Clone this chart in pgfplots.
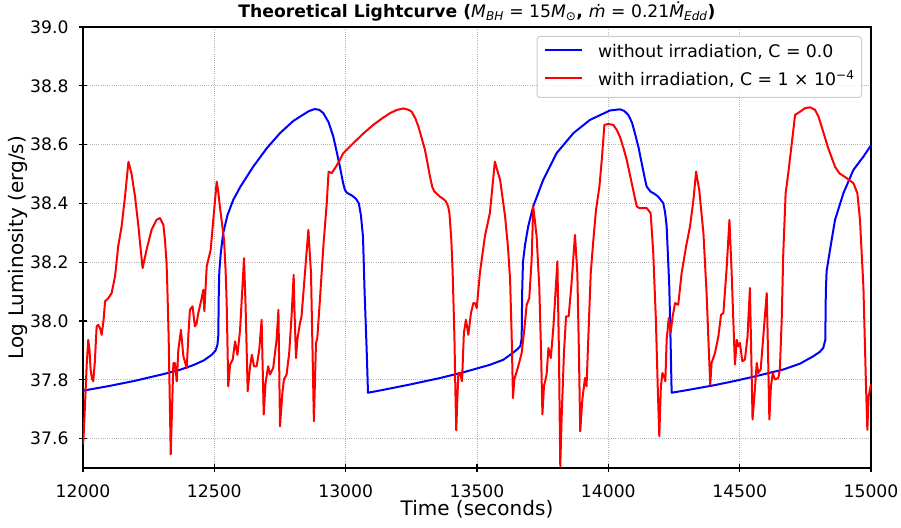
\documentclass[border=0pt]{standalone}
\usepackage{pgfplots}
\pgfplotsset{compat=1.18}
\usepackage{fontspec}
\setmainfont{DejaVu Sans}
\usetikzlibrary{calc}
\begin{document}
\begin{tikzpicture}
\begin{axis}[
  name=ax,
  scale only axis,
  width=788pt, height=441pt,
  xmin=12000, xmax=15000, ymin=37.5, ymax=39.0,
  xtick={12000,12500,13000,13500,14000,14500,15000},
  ytick={37.6,37.8,38.0,38.2,38.4,38.6,38.8,39.0},
  scaled x ticks=false, scaled y ticks=false,
  /pgf/number format/assume math mode=true,
  x tick label style={/pgf/number format/1000 sep={}},
  y tick label style={/pgf/number format/fixed, /pgf/number format/fixed zerofill, /pgf/number format/precision=1},
  xticklabel style={anchor=base, yshift=-25pt, inner sep=0pt, font=\fontsize{17.2}{20}\selectfont},
  yticklabel style={anchor=east, xshift=-10.3pt, inner sep=0pt, font=\fontsize{17.2}{20}\selectfont},
  xtick pos=left, ytick pos=left,
  tick align=center,
  major tick length=8pt,
  tick style={black, line width=1.2pt},
  axis line style={black, line width=1.25pt},
  grid=major,
  grid style={line width=0.8pt, draw=black!30, dash pattern=on 0.8pt off 1.4pt},
  xlabel={Time (seconds)},
  ylabel={Log Luminosity (erg/s)},
  xlabel style={at={(axis description cs:0.5,-0.10658)}, anchor=base, inner sep=0pt, font=\fontsize{20}{24}\selectfont},
  ylabel style={at={(axis description cs:-0.0749,0.5)}, anchor=base, inner sep=0pt, font=\fontsize{20}{24}\selectfont},
  title={\textbf{Theoretical Lightcurve (}\textit{M}\textsubscript{\textit{BH}} = 15\textit{M}\textsubscript{⊙}\textbf{, }\textit{ṁ} = 0.21\textit{Ṁ}\textsubscript{\textit{Edd}}\textbf{)}},
  every axis title/.style={at={(axis description cs:0.5,1)}, anchor=base, yshift=9.3pt, inner sep=0pt, font=\fontsize{17.2}{20}\selectfont},
  legend image code/.code={\draw[#1, line width=2pt] (0pt,7.3pt) -- (37pt,7.3pt);},
  legend style={at={(axis description cs:1,1)}, anchor=north east, xshift=-9pt, yshift=-9pt,
    draw=black!20, line width=1pt, rounded corners=3pt, fill=white, fill opacity=0.8, text opacity=1, draw opacity=1,
    font=\fontsize{17.3}{21}\selectfont, inner xsep=7pt, inner ysep=5pt, row sep=5pt, column sep=15pt,
    cells={anchor=base west},
    nodes={inner sep=0pt, text height=16.3pt, text depth=6.7pt}},
  every axis plot/.append style={line width=2pt, line join=round},
]
\addplot[blue] coordinates {
(12000,37.763) (12100,37.779) (12200,37.797) (12242,37.806) (12300,37.818) (12369,37.834)
(12420,37.850) (12460,37.866) (12490,37.885) (12505,37.90) (12512,37.92) (12515,37.95)
(12517,38.10) (12519,38.17) (12525,38.235) (12534,38.30) (12550,38.36) (12572,38.412)
(12600,38.458) (12648,38.525) (12700,38.588) (12750,38.639) (12800,38.680) (12826,38.695)
(12860,38.714) (12883,38.721) (12900,38.718) (12915,38.707) (12935,38.676) (12953,38.627)
(12966,38.575) (12978,38.525) (12990,38.47) (12997,38.446) (13005,38.436) (13025,38.426)
(13040,38.415) (13050,38.40) (13058,38.36) (13066,38.286) (13072,38.10) (13080,37.90)
(13085,37.756) (13150,37.767) (13250,37.785) (13359,37.806) (13450,37.826) (13549,37.851)
(13600,37.868) (13637,37.892) (13655,37.905) (13665,37.915) (13670,37.94) (13672,38.10)
(13675,38.2) (13683,38.26) (13695,38.322) (13714,38.390) (13752,38.480) (13803,38.571)
(13867,38.639) (13930,38.684) (13968,38.700) (14006,38.716) (14044,38.720) (14060,38.715)
(14076,38.701) (14090,38.675) (14101,38.639) (14115,38.59) (14127,38.537) (14140,38.48)
(14146,38.457) (14161,38.440) (14175,38.433) (14190,38.423) (14209,38.401) (14216,38.37)
(14222,38.322) (14228,38.20) (14232,38.118) (14237,37.93) (14241,37.756) (14300,37.765)
(14400,37.781) (14476,37.795) (14560,37.812) (14666,37.835) (14730,37.855) (14780,37.880)
(14805,37.895) (14818,37.908) (14826,37.936) (14828,38.10) (14831,38.17) (14844,38.242)
(14863,38.344) (14895,38.435) (14933,38.514) (14971,38.559) (15000,38.598)
};
\addlegendentry{without irradiation, C = 0.0}
\addplot[red] coordinates {
(12000,37.58) (12003,37.62) (12008,37.721) (12014,37.85) (12020,37.936) (12025,37.90)
(12029,37.834) (12034,37.805) (12039,37.795) (12045,37.86) (12052,37.982) (12058,37.987)
(12065,37.975) (12071,37.953) (12078,38.00) (12084,38.067) (12097,38.078) (12109,38.095)
(12122,38.152) (12134,38.254) (12147,38.322) (12160,38.424) (12173,38.542) (12185,38.50)
(12198,38.424) (12211,38.322) (12220,38.24) (12227,38.180) (12242,38.242) (12261,38.310)
(12280,38.344) (12293,38.350) (12306,38.327) (12312,38.276) (12318,38.20) (12321,38.118)
(12326,37.948) (12330,37.75) (12334,37.546) (12339,37.70) (12344,37.857) (12350,37.857)
(12357,37.795) (12363,37.902) (12373,37.970) (12377,37.93) (12382,37.880) (12395,37.840)
(12401,37.95) (12407,38.038) (12417,38.050) (12426,37.982) (12432,37.99) (12439,38.027)
(12450,38.07) (12458,38.106) (12462,38.033) (12471,38.186) (12486,38.242) (12496,38.344)
(12509,38.474) (12515,38.44) (12521,38.390) (12537,38.276) (12543,38.17) (12547,38.061)
(12553,37.778) (12560,37.852) (12570,37.869) (12579,37.931) (12588,37.885) (12598,37.970)
(12606,38.10) (12613,38.214) (12619,38.050) (12627,37.761) (12636,37.846) (12643,37.885)
(12651,37.846) (12661,37.846) (12671,37.902) (12680,38.004) (12688,37.682) (12695,37.789)
(12705,37.846) (12712,37.818) (12724,37.840) (12737,37.936) (12744,38.038) (12750,37.642)
(12759,37.755) (12765,37.801) (12775,37.818) (12785,37.891) (12794,38.016) (12802,38.157)
(12805,38.038) (12811,37.874) (12816,37.936) (12826,37.993) (12832,38.016) (12842,38.129)
(12850,38.22) (12858,38.310) (12868,38.163) (12874,37.891) (12879,37.659) (12887,37.925)
(12892,37.942) (12902,38.072) (12915,38.254) (12928,38.401) (12935,38.508) (12947,38.503)
(12963,38.525) (12978,38.548) (12991,38.571) (13016,38.593) (13042,38.616) (13070,38.64)
(13105,38.667) (13140,38.69) (13169,38.707) (13195,38.718) (13220,38.723) (13240,38.718)
(13251,38.712) (13265,38.69) (13277,38.661) (13290,38.62) (13302,38.582) (13312,38.535)
(13321,38.491) (13330,38.455) (13338,38.440) (13359,38.423) (13375,38.413) (13382,38.406)
(13390,38.39) (13395,38.367) (13402,38.28) (13407,38.174) (13414,37.948) (13418,37.75)
(13421,37.628) (13425,37.73) (13429,37.823) (13435,37.823) (13443,37.795) (13450,37.959)
(13458,38.004) (13467,37.953) (13477,38.027) (13486,38.061) (13493,38.06) (13499,38.044)
(13511,38.163) (13530,38.288) (13549,38.367) (13568,38.542) (13578,38.51) (13588,38.480)
(13607,38.355) (13618,38.25) (13626,38.140) (13632,37.948) (13637,37.738) (13642,37.801)
(13657,37.846) (13670,37.891) (13680,37.970) (13689,38.055) (13699,38.078) (13708,38.208)
(13714,38.390) (13727,38.288) (13737,38.118) (13744,37.891) (13749,37.682) (13755,37.778)
(13765,37.818) (13772,37.908) (13781,37.874) (13791,37.982) (13806,38.203) (13812,37.891)
(13817,37.506) (13822,37.665) (13831,37.891) (13839,38.016) (13849,38.016) (13860,38.129)
(13873,38.293) (13882,38.163) (13888,37.891) (13893,37.625) (13901,37.733) (13911,37.806)
(13917,37.778) (13924,37.948) (13933,38.163) (13943,38.276) (13953,38.378) (13966,38.457)
(13975,38.548) (13985,38.667) (14000,38.670) (14019,38.667) (14032,38.65) (14044,38.627)
(14057,38.59) (14070,38.548) (14089,38.469) (14108,38.390) (14118,38.384) (14146,38.384)
(14161,38.367) (14166,38.30) (14171,38.231) (14181,38.004) (14188,37.778) (14194,37.608)
(14200,37.778) (14206,37.823) (14212,37.812) (14217,37.795) (14222,37.936) (14230,38.010)
(14237,37.959) (14245,38.016) (14254,38.061) (14266,38.055) (14279,38.163) (14296,38.254)
(14311,38.322) (14324,38.412) (14334,38.508) (14346,38.446) (14362,38.299) (14374,38.095)
(14383,37.891) (14388,37.783) (14393,37.857) (14406,37.891) (14419,37.948) (14429,38.021)
(14438,38.027) (14450,38.174) (14461,38.344) (14469,38.174) (14478,37.948) (14482,37.852)
(14489,37.936) (14495,37.914) (14501,37.925) (14510,37.863) (14520,37.869) (14530,37.948)
(14539,38.112) (14544,37.891) (14549,37.665) (14556,37.744) (14565,37.857) (14571,37.823)
(14580,37.835) (14590,37.948) (14603,38.095) (14608,37.891) (14613,37.665) (14619,37.778)
(14626,37.823) (14634,37.801) (14647,37.806) (14653,37.835) (14660,38.004) (14666,38.231)
(14675,38.435) (14685,38.503) (14694,38.571) (14711,38.701) (14730,38.712) (14749,38.724)
(14768,38.727) (14787,38.718) (14800,38.695) (14812,38.661) (14837,38.588) (14863,38.525)
(14879,38.503) (14907,38.486) (14933,38.469) (14948,38.435) (14958,38.344) (14971,38.118)
(14981,37.778) (14986,37.630) (14991,37.744) (15000,37.785)
};
\addlegendentry{with irradiation, C = 1 × 10\textsuperscript{−4}}
\end{axis}
\pgfresetboundingbox
\useasboundingbox ($(ax.south west)+(-83pt,-59pt)$) rectangle ($(ax.north east)+(30pt,27pt)$);
\end{tikzpicture}
\end{document}
